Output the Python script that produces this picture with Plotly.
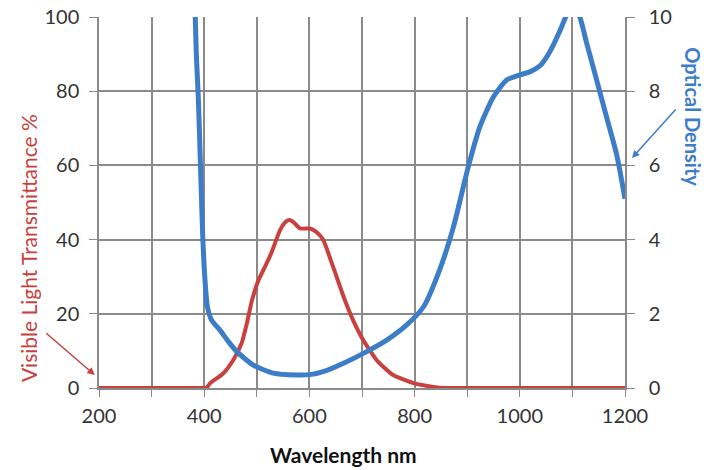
import plotly.graph_objects as go

# Visible light transmittance (%) vs wavelength (nm)
wavelength_vlt = [200, 300, 400, 404, 411, 436, 455, 471, 481, 491, 503, 515, 528, 544, 555, 562,
                  569, 582, 601, 614, 626, 645, 665, 683, 702, 728, 759, 798, 836, 860, 900, 1000,
                  1100, 1200]
vlt = [0, 0, 0, 0, 1.25, 3.9, 7.5, 12, 17.4, 23.7, 29, 32.5, 36.5, 42.5, 44.8, 45.3,
       44.8, 43, 43, 42, 40, 32.7, 24.6, 18.3, 13, 7.5, 3.5, 1.3, 0.3, 0, 0, 0,
       0, 0]

# Optical density vs wavelength (nm)
wavelength_od = [381, 385, 389, 393, 397, 401.5, 406, 414, 430, 446, 462, 493, 531, 576, 601, 626,
                 671, 709, 747, 785, 817, 848, 874, 902, 924, 950, 975, 1000, 1019, 1038, 1050,
                 1064, 1076, 1089, 1100, 1114, 1127, 1140, 1165, 1184, 1200]
od = [11, 9.0, 7.76, 5.96, 4.17, 2.91, 2.2, 1.83, 1.56, 1.25, 0.98, 0.62, 0.40, 0.35, 0.36, 0.44,
      0.71, 0.98, 1.29, 1.70, 2.19, 3.2, 4.35, 5.96, 7.04, 7.85, 8.30, 8.44, 8.52, 8.68, 8.9,
      9.25, 9.62, 10.05, 10.3, 10.0, 9.3, 8.62, 7.3, 6.3, 5.1]

x_ticks = [200, 400, 600, 800, 1000, 1200]
left_ticks = [0, 20, 40, 60, 80, 100]
right_ticks = [0, 2, 4, 6, 8, 10]

RED = "#C8413E"
BLUE = "#3D7DC8"
GRID = "#8a8a8a"
FONT = "Lato"

fig = go.Figure()
fig.add_trace(go.Scatter(x=wavelength_vlt, y=vlt, mode="lines",
                         line=dict(color=RED, width=4, shape="spline", smoothing=0.5),
                         yaxis="y", showlegend=False))
fig.add_trace(go.Scatter(x=wavelength_od, y=od, mode="lines",
                         line=dict(color=BLUE, width=5, shape="spline", smoothing=0.6),
                         yaxis="y2", showlegend=False))

fig.update_layout(
    width=709, height=470,
    margin=dict(l=99, r=84, t=17, b=82, autoexpand=False),
    paper_bgcolor="white", plot_bgcolor="white",
    font=dict(family=FONT, size=20, color="#333333"),
    xaxis=dict(range=[200, 1200], tickvals=x_ticks, showgrid=True, gridcolor=GRID, gridwidth=1.5,
               minor=dict(dtick=100, tick0=200, showgrid=True, gridcolor=GRID, gridwidth=1.5,
                          ticks="outside", ticklen=7, tickcolor=GRID),
               ticks="outside", ticklen=7, tickcolor=GRID, showline=True, linecolor=GRID,
               linewidth=1.5, zeroline=False, ticklabelstandoff=2, automargin=False,
               ticklabeloverflow="allow"),
    yaxis=dict(range=[0, 100], tickvals=left_ticks, showgrid=True, gridcolor=GRID, gridwidth=1.5,
               ticks="outside", ticklen=8, tickcolor=GRID, showline=True, linecolor=GRID,
               linewidth=1.5, zeroline=False, ticklabelstandoff=6, automargin=False,
               ticklabeloverflow="allow"),
    yaxis2=dict(range=[0, 10], tickvals=right_ticks, overlaying="y", side="right", showgrid=False,
                ticks="outside", ticklen=8, tickcolor=GRID, showline=True, linecolor=GRID,
                linewidth=1.5, zeroline=False, ticklabelstandoff=10, automargin=False,
                ticklabeloverflow="allow"),
)

fig.add_annotation(text="Visible Light Transmittance %", xref="paper", yref="paper",
                   x=-0.135, y=0.377, xanchor="center", yanchor="middle", textangle=-90,
                   showarrow=False, font=dict(family=FONT, size=21, color=RED))
fig.add_annotation(text="<b>Optical Density</b>", xref="paper", yref="paper",
                   x=1.129, y=0.73, xanchor="center", yanchor="middle", textangle=90,
                   showarrow=False, font=dict(family=FONT, size=20, color=BLUE))
fig.add_annotation(text="<b>Wavelength nm</b>", xref="paper", yref="paper",
                   x=0.464, y=-0.18, xanchor="center", yanchor="middle",
                   showarrow=False, font=dict(family=FONT, size=21, color="#111111"))

# arrows
fig.add_annotation(x=-0.008, y=0.035, xref="paper", yref="paper", ax=-50, ay=-43, text="",
                   showarrow=True, arrowhead=2, arrowsize=1, arrowwidth=1.5, arrowcolor=RED)
fig.add_annotation(x=1.0133, y=0.62, xref="paper", yref="paper", ax=45, ay=-50, text="",
                   showarrow=True, arrowhead=2, arrowsize=1, arrowwidth=1.5, arrowcolor=BLUE)

fig.write_html("out.html", config={"displayModeBar": False},
               post_script="document.body.style.margin='0';")
